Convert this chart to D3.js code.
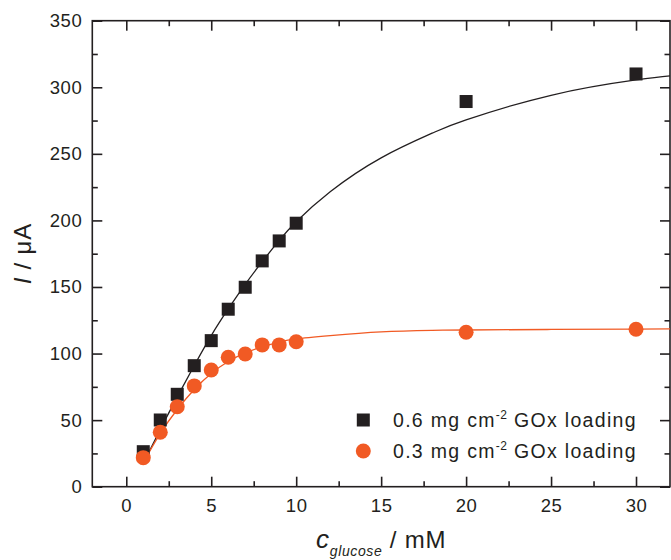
<!DOCTYPE html>
<html>
<head>
<meta charset="utf-8">
<script src="https://cdn.jsdelivr.net/npm/d3@7"></script>
<style>
  body { margin: 0; background: #fff; }
  svg text { font-family: Arial, "Liberation Sans", sans-serif; fill: #231f20; }
</style>
</head>
<body>
<svg width="671" height="560"></svg>
<script>
// measured points
var conc = [1, 2, 3, 4, 5, 6, 7, 8, 9, 10, 20, 30];
var current06 = [26.3, 50.1, 69.4, 90.9, 109.7, 133.3, 149.8, 169.6, 184.6, 197.9, 289.3, 310];
var current03 = [21.8, 40.9, 60.1, 75.7, 87.7, 97.2, 99.7, 106.5, 106.5, 108.9, 116, 118.3];

// fitted curves
var fitX = [1, 2, 3, 4, 5, 6, 7, 8, 9, 10, 12, 15, 18, 20, 25, 30, 32];
var fit06 = [17.6, 43, 67.5, 91, 113.5, 133.5, 152, 169, 185, 199, 221.5, 247, 265.5, 275.5, 294, 305.5, 308.5];
var fit03 = [18, 40, 58, 73, 85, 94, 100.5, 105, 108.5, 111, 113.5, 116.3, 117.4, 117.7, 118.1, 118.4, 118.5];

var xMajor = [0, 5, 10, 15, 20, 25, 30];
var xMinor = [2.5, 7.5, 12.5, 17.5, 22.5, 27.5];
var yMajor = [0, 50, 100, 150, 200, 250, 300, 350];
var yMinor = [25, 75, 125, 175, 225, 275, 325];

var legendLabels = ["0.6 mg cm", "0.3 mg cm"];

var black = "#231f20", red = "#f15a24";

function main() {
  var svg = d3.select("svg");
  var left = 92.3, right = 670, top = 20.7, bottom = 486.7;

  var x = d3.scaleLinear().domain([-2, 32]).range([left, right]);
  var y = d3.scaleLinear().domain([0, 350]).range([bottom, top]);

  // frame
  svg.append("rect").attr("x", left).attr("y", top)
    .attr("width", right - left).attr("height", bottom - top)
    .attr("fill", "none").attr("stroke", black).attr("stroke-width", 1.6);

  function ticks(axis, tr, vals, size, pad, labels) {
    var g = svg.append("g").attr("transform", tr)
      .call(axis.tickValues(vals).tickSizeInner(-size).tickSizeOuter(0).tickPadding(pad)
        .tickFormat(labels ? d3.format("d") : ""));
    g.select(".domain").remove();
    g.selectAll("line").attr("stroke", black).attr("stroke-width", 1.6);
    g.selectAll("text").attr("font-size", 18.5).attr("letter-spacing", 0.6).style("fill", black);
    return g;
  }

  ticks(d3.axisBottom(x), "translate(0," + bottom + ")", xMajor, 10, 12, true);
  ticks(d3.axisBottom(x), "translate(0," + bottom + ")", xMinor, 5.5, 12, false);
  ticks(d3.axisTop(x), "translate(0," + top + ")", xMajor, 10, 12, false);
  ticks(d3.axisTop(x), "translate(0," + top + ")", xMinor, 5.5, 12, false);
  ticks(d3.axisLeft(y), "translate(" + left + ",0)", yMajor, 10, 10, true);
  ticks(d3.axisLeft(y), "translate(" + left + ",0)", yMinor, 5.5, 10, false);
  ticks(d3.axisRight(y), "translate(" + right + ",0)", yMajor, 10, 10, false);
  ticks(d3.axisRight(y), "translate(" + right + ",0)", yMinor, 5.5, 10, false);

  // fit lines
  var line = d3.line().x(function(d){ return x(d[0]); }).y(function(d){ return y(d[1]); })
    .curve(d3.curveNatural);
  svg.append("path").datum(d3.zip(fitX, fit06)).attr("d", line)
    .attr("fill", "none").attr("stroke", black).attr("stroke-width", 1.3);
  svg.append("path").datum(d3.zip(fitX, fit03)).attr("d", line)
    .attr("fill", "none").attr("stroke", red).attr("stroke-width", 1.3);

  // points
  var sq = 13;
  svg.append("g").selectAll("rect").data(d3.zip(conc, current06)).enter().append("rect")
    .attr("x", function(d){ return x(d[0]) - sq / 2; })
    .attr("y", function(d){ return y(d[1]) - sq / 2; })
    .attr("width", sq).attr("height", sq).attr("fill", black);
  svg.append("g").selectAll("circle").data(d3.zip(conc, current03)).enter().append("circle")
    .attr("cx", function(d){ return x(d[0]); })
    .attr("cy", function(d){ return y(d[1]); })
    .attr("r", 7.5).attr("fill", red);

  // legend
  var lg = svg.append("g");
  legendLabels.forEach(function(lab, i) {
    var cy = 420 + i * 31;
    if (i === 0) {
      lg.append("rect").attr("x", 363.3 - 6.5).attr("y", cy - 6.5).attr("width", 13).attr("height", 13).attr("fill", black);
    } else {
      lg.append("circle").attr("cx", 363.3).attr("cy", cy).attr("r", 7.5).attr("fill", red);
    }
    var t = lg.append("text").attr("x", 393).attr("y", cy + 6.5).attr("font-size", 19.5)
      .attr("letter-spacing", 1.3);
    t.append("tspan").text(lab);
    t.append("tspan").attr("font-size", 12).attr("letter-spacing", 0.5).attr("dy", -8).text("-2");
    t.append("tspan").attr("dy", 8).text(" GOx loading");
  });

  // axis titles
  var xt = svg.append("text").attr("x", (left + right) / 2).attr("y", 548)
    .attr("text-anchor", "middle").attr("font-size", 24).attr("letter-spacing", 0.8);
  xt.append("tspan").attr("font-style", "italic").attr("font-size", 26).text("c");
  xt.append("tspan").attr("font-style", "italic").attr("font-size", 14).attr("letter-spacing", 0.6).attr("dy", 8).text("glucose");
  xt.append("tspan").attr("dy", -8).text(" / mM");

  var yt = svg.append("text").attr("transform", "translate(31," + ((top + bottom) / 2) + ") rotate(-90)")
    .attr("text-anchor", "middle").attr("font-size", 24).attr("letter-spacing", 0.8);
  yt.append("tspan").attr("font-style", "italic").text("I");
  yt.append("tspan").text(" / \u03bcA");
}
main();
</script>
</body>
</html>
